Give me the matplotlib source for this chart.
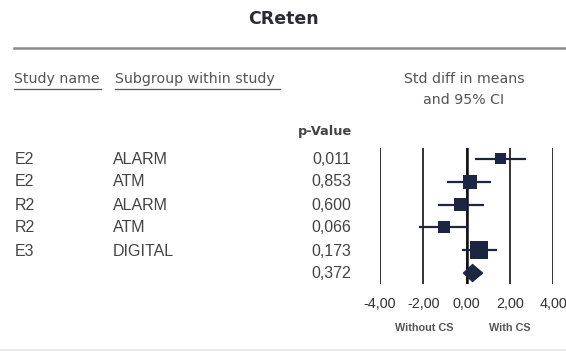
import matplotlib.pyplot as plt
import numpy as np

# Datos del forest plot
estudios = ['E2', 'E2', 'R2', 'R2', 'E3']
subgrupos = ['ALARM', 'ATM', 'ALARM', 'ATM', 'DIGITAL']
p_valores = ['0,011', '0,853', '0,600', '0,066', '0,173', '0,372']
efecto = [1.57, 0.14, -0.28, -1.06, 0.60]
ci_inf = [0.41, -0.88, -1.34, -2.21, -0.23]
ci_sup = [2.76, 1.15, 0.83, 0.05, 1.43]
peso = [11, 14, 13, 12, 18]
resumen = 0.28
resumen_inf = -0.14
resumen_sup = 0.74
ticks = [-4, -2, 0, 2, 4]

W, H = 566, 354
fig = plt.figure(figsize=(W / 100, H / 100), dpi=100)
plt.rcParams['font.family'] = ['Liberation Sans', 'DejaVu Sans']

gris = '#444444'
gris_claro = '#555555'
azul = '#1c2541'

# Eje de fondo en pixeles para los textos
fondo = fig.add_axes([0, 0, 1, 1])
fondo.set_xlim(0, W)
fondo.set_ylim(H, 0)
fondo.axis('off')

fondo.text(283, 19, 'CReten', ha='center', va='center', fontsize=12.5,
           fontweight='bold', color='#2b2b33', family='DejaVu Sans')
fondo.plot([14, W], [48, 48], color='#8a8a8a', lw=1.8)
fondo.plot([0, W], [350, 350], color='#e8e8e8', lw=1.2)

cab = dict(va='center', fontsize=10.2, color=gris_claro, family='DejaVu Sans')
fondo.text(14, 79, 'Study name', ha='left', **cab)
fondo.plot([14, 101], [89, 89], color=gris_claro, lw=0.9)
fondo.text(115, 79, 'Subgroup within study', ha='left', **cab)
fondo.plot([115, 280], [89, 89], color=gris_claro, lw=0.9)
fondo.text(464, 79, 'Std diff in means', ha='center', **cab)
fondo.text(464, 100, 'and 95% CI', ha='center', **cab)
fondo.text(352, 131, 'p-Value', ha='right', va='center', fontsize=9.3,
           fontweight='bold', color=gris, family='DejaVu Sans')

filas_y = np.arange(6) * 23 + 159
for i in range(len(estudios)):
    fondo.text(15, filas_y[i], estudios[i], ha='left', va='center', fontsize=11.5, color=gris)
    fondo.text(113, filas_y[i], subgrupos[i], ha='left', va='center', fontsize=11.5, color=gris)
for i, p in enumerate(p_valores):
    fondo.text(351, filas_y[i], p, ha='right', va='center', fontsize=11.5, color=gris)

fondo.text(424, 328, 'Without CS', ha='center', va='center', fontsize=7.8,
           fontweight='bold', color=gris_claro)
fondo.text(510, 328, 'With CS', ha='center', va='center', fontsize=7.8,
           fontweight='bold', color=gris_claro)

# Eje del forest plot
x0, x1 = 380, 553
y0, y1 = 148, 284
ax = fig.add_axes([x0 / W, 1 - y1 / H, (x1 - x0) / W, (y1 - y0) / H])
ax.set_xlim(-4, 4)
ax.set_ylim(5.48, -0.48)
for s in ax.spines.values():
    s.set_visible(False)
ax.patch.set_alpha(0)
for t in ticks:
    ax.axvline(t, color='#111111', lw=1.2, zorder=1)
ax.axvline(0, color='#111111', lw=1.8, zorder=1)

filas = np.arange(len(efecto))
ax.hlines(filas, ci_inf, ci_sup, color=azul, lw=1.6, zorder=2)
ax.scatter(efecto, filas, marker='s', s=(np.array(peso) * 0.72) ** 2,
           color=azul, zorder=3, linewidths=0)
ax.fill([resumen_inf, resumen, resumen_sup, resumen],
        [5, 4.63, 5, 5.37], color=azul, zorder=3)

ax.set_yticks([])
ax.set_xticks(ticks)
ax.set_xticklabels([f'{t:.2f}'.replace('.', ',') for t in ticks],
                   fontsize=10.4, color='#333333')
ax.tick_params(axis='x', length=0, pad=9)

fig.savefig('out.png', dpi=100)
